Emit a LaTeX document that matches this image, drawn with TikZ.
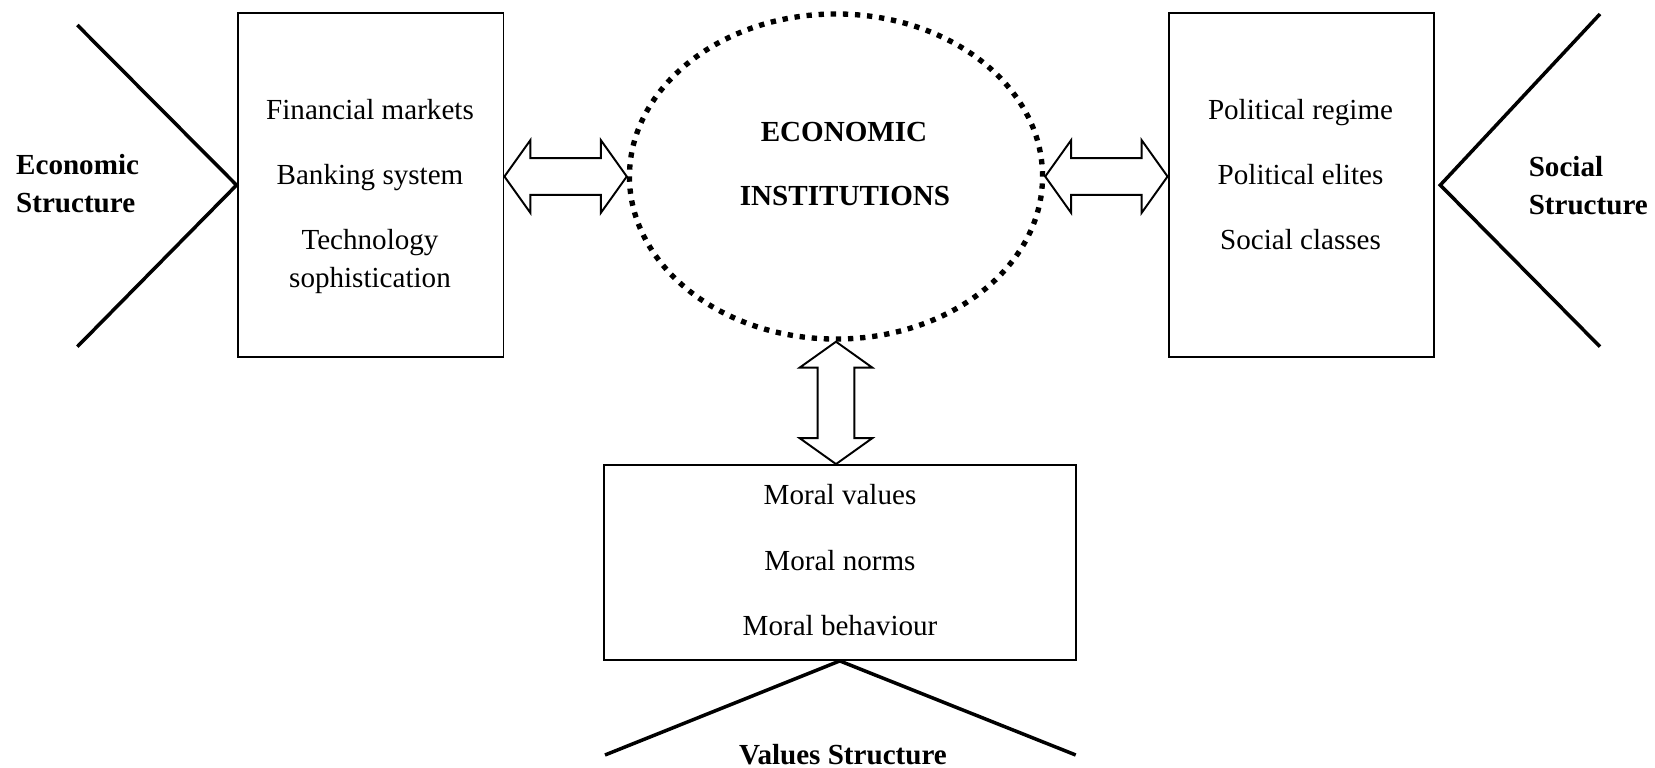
\documentclass[tikz,border=0pt]{standalone}
\usepackage{fontspec}
\setmainfont{Liberation Serif}
\usepackage{tikz}
\usetikzlibrary{calc}
\usetikzlibrary{shapes.geometric}
\tikzset{%
    box/.style={draw,line width=0.8pt,inner sep=0pt},
    txt/.style={anchor=base,inner sep=0pt,font=\fontsize{12pt}{15.8pt}\selectfont},
    bold/.style={txt,font=\fontsize{12pt}{15.8pt}\selectfont\bfseries},
    chev/.style={line width=1.45pt},
    dots/.style={draw,ellipse,line width=2.2pt,dash pattern=on 2.2pt off 2.8pt,
        minimum width=170.4pt,minimum height=134.1pt,inner sep=0pt},
    dblarrow/.style={line width=0.8pt,to path={
        ($(\tikztostart)!10.7pt!(\tikztotarget)$) coordinate (@1)
        ($(\tikztotarget)!10.7pt!(\tikztostart)$) coordinate (@2)
        (\tikztostart) -- ($(@1)!15pt!90:(\tikztotarget)$) -- ($(@1)!7.6pt!90:(\tikztotarget)$)
        -- ($(@2)!7.6pt!-90:(\tikztostart)$) -- ($(@2)!15pt!-90:(\tikztostart)$) -- (\tikztotarget)
        -- ($(@2)!15pt!90:(\tikztostart)$) -- ($(@2)!7.6pt!90:(\tikztostart)$)
        -- ($(@1)!7.6pt!-90:(\tikztotarget)$) -- ($(@1)!15pt!-90:(\tikztotarget)$) -- cycle}}
}

\begin{document}
\begin{tikzpicture}[x=0.4125pt,y=-0.4125pt]
    \useasboundingbox (0,0) rectangle (1655,768);
    % boxes and the ellipse
    \node[box,minimum width=109.7pt,minimum height=141.6pt] (L) at (370.5,185.1) {};
    \node[box,minimum width=109.5pt,minimum height=141.6pt] (R) at (1301.25,185.1) {};
    \node[box,minimum width=194.6pt,minimum height=80.4pt] (V) at (839.8,562.5) {};
    \node[dots] (E) at (836,176.5) {};
    %
    \foreach \t/\y [count=\i] in {Financial markets/119.2,Banking system/184.2,Technology/249.2,sophistication/287.5}
      \node[txt] (lt\i) at (370,\y) {\t};
    \foreach \t/\y [count=\i] in {Political regime/119.2,Political elites/184.2,Social classes/249.2}
      \node[txt] (rt\i) at (1300.5,\y) {\t};
    \foreach \t/\y [count=\i] in {Moral values/504.8,Moral norms/570.8,Moral behaviour/635.8}
      \node[txt] (vt\i) at (840,\y) {\t};
    \node[bold] (et1) at (844,141.5) {ECONOMIC};
    \node[bold] (et2) at (845,206) {INSTITUTIONS};
    %
    \node[bold,anchor=base west] (es1) at (15.7,174.5) {Economic};
    \node[bold,anchor=base west] (es2) at (15.7,212.5) {Structure};
    \node[bold,anchor=base west] (ss1) at (1528.3,177) {Social};
    \node[bold,anchor=base west] (ss2) at (1528.3,214.5) {Structure};
    \node[bold] (vs) at (843,764.5) {Values Structure};
    % chevrons
    \coordinate (el1) at (77.3,25);
    \coordinate (el2) at (77.3,346.7);
    \coordinate (er1) at (1600,14);
    \coordinate (er2) at (1600,346.7);
    \coordinate (ev1) at (605,755);
    \coordinate (ev2) at (1075.7,755);
    \draw[chev] (el1) -- (L.west) -- (el2);
    \draw[chev] (er1) -- ([xshift=2.2pt]R.east) -- (er2);
    \draw[chev] (ev1) -- (V.south) -- (ev2);
    % double arrows
    \draw[dblarrow] (L.east|-E.west) to (E.west);
    \draw[dblarrow] (E.east) to (R.west|-E.east);
    \draw[dblarrow] (E.south) to (E.south|-V.north);
\end{tikzpicture}
\end{document}
